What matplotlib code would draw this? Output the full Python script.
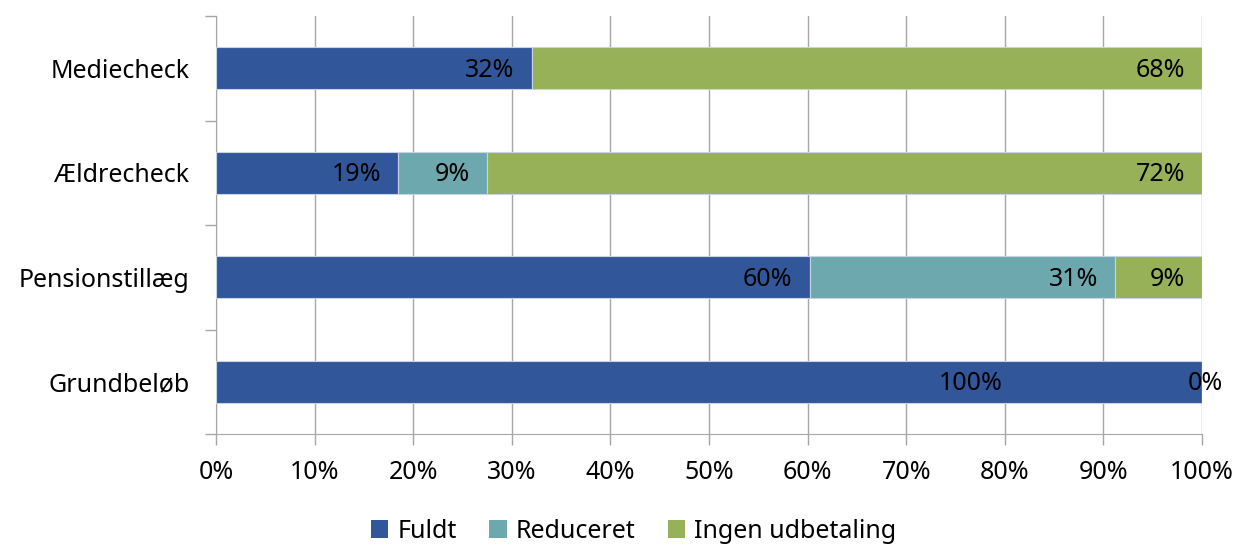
import matplotlib
matplotlib.use("Agg")
import matplotlib.pyplot as plt
from matplotlib.transforms import offset_copy
import numpy as np

plt.rcParams['font.family'] = ['Noto Sans', 'DejaVu Sans']

categories = ["Grundbeløb", "Pensionstillæg", "Ældrecheck", "Mediecheck"]
series_names = ["Fuldt", "Reduceret", "Ingen udbetaling"]
fuldt = [100.0, 60.2, 18.5, 32.0]
reduceret = [None, 31.0, 9.0, None]
ingen = [0.0, 8.8, 72.5, 68.0]
labels_fuldt = ["100%", "60%", "19%", "32%"]
labels_reduceret = [None, "31%", "9%", None]
labels_ingen = ["0%", "9%", "72%", "68%"]
xticklabels = ["0%", "10%", "20%", "30%", "40%", "50%", "60%", "70%", "80%", "90%", "100%"]

colors = ["#31579A", "#6CA8AE", "#97B158"]
grid_col = "#A6A6A6"
FS = 18

fig = plt.figure(figsize=(12.42, 5.45), dpi=100)
ax = fig.add_axes([216/1242, 1 - 434/545, (1202-216)/1242, (434-16)/545])

y = np.arange(len(categories))
left = np.zeros(len(categories))
all_series = [fuldt, reduceret, ingen]
all_labels = [labels_fuldt, labels_reduceret, labels_ingen]
for si, (vals, labs) in enumerate(zip(all_series, all_labels)):
    v = np.array([0.0 if a is None else a for a in vals])
    ax.barh(y, v, left=left, height=0.4, color=colors[si], edgecolor="#C9D3E3",
            linewidth=0.8, label=series_names[si], zorder=3)
    for i in range(len(categories)):
        if labs[i] is None:
            continue
        end = left[i] + v[i]
        if v[i] == 0:
            tr = offset_copy(ax.transData, fig=fig, x=3, y=-2, units='dots')
            ax.text(end, y[i], labs[i], transform=tr, ha='center', va='center',
                    fontsize=FS, color='black', zorder=5)
        else:
            dx = -17
            if v[i] >= 99.9:
                dx = -199
            tr = offset_copy(ax.transData, fig=fig, x=dx, y=-2, units='dots')
            ax.text(end, y[i], labs[i], transform=tr, ha='right', va='center',
                    fontsize=FS, color='black', zorder=5)
    left = left + v

ax.set_xlim(0, 100)
ax.set_ylim(-0.5, len(categories) - 0.5)
ax.set_xticks(np.arange(0, 101, 10))
ax.set_xticklabels(xticklabels, fontsize=FS)
ax.set_yticks(y)
ax.set_yticklabels(categories, fontsize=FS)
ax.set_yticks(np.arange(-0.5, len(categories), 1), minor=True)
ax.tick_params(axis='y', which='major', length=0, pad=19)
ax.tick_params(axis='y', which='minor', length=8, color=grid_col, width=1)
ax.tick_params(axis='x', which='major', length=8, color=grid_col, width=1, pad=11)

ax.grid(axis='x', color=grid_col, linewidth=1, zorder=0)
ax.set_axisbelow(True)
for s in ['top', 'right']:
    ax.spines[s].set_visible(False)
ax.spines['left'].set_color(grid_col)
ax.spines['bottom'].set_color(grid_col)

handles, lbls = ax.get_legend_handles_labels()
leg = fig.legend(handles, lbls, loc='center', bbox_to_anchor=(0.51, 1 - 531/545), ncol=3,
                 frameon=False, fontsize=FS, handlelength=0.7, handleheight=0.7,
                 handletextpad=0.35, columnspacing=1.3)
for h in leg.legend_handles:
    h.set_edgecolor('none')

fig.savefig("out.png", dpi=100)
